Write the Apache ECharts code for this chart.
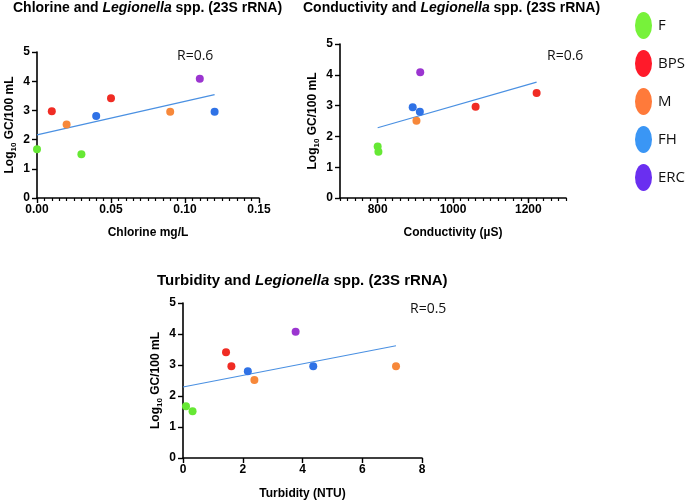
<!DOCTYPE html>
<html>
<head>
<meta charset="utf-8">
<script src="https://cdn.jsdelivr.net/npm/echarts@6/dist/echarts.min.js"></script>
<style>html,body{margin:0;padding:0;background:#fff}#c{width:685px;height:501px}</style>
</head>
<body>
<div id="c"></div>
<script>
// ---- data ----
const groups = ['F', 'BPS', 'M', 'FH', 'ERC'];
const pointColors = ['#66e834', '#f02c24', '#f7883a', '#2f72e6', '#9b35d0'];
const legendColors = ['#77f23a', '#ff1a2a', '#ff7a3a', '#3a96f5', '#6a2ff0'];

// Chlorine (mg/L) vs Log10 GC/100 mL
const chlorineF   = [[0.00, 1.67], [0.03, 1.50]];
const chlorineBPS = [[0.01, 2.97], [0.05, 3.42]];
const chlorineM   = [[0.02, 2.52], [0.09, 2.95]];
const chlorineFH  = [[0.04, 2.81], [0.12, 2.95]];
const chlorineERC = [[0.11, 4.08]];
const chlorineFit = [[0.00, 2.16], [0.12, 3.54]];

// Conductivity (µS)
const condF   = [[800, 1.67], [802, 1.50]];
const condBPS = [[1060, 2.96], [1222, 3.41]];
const condM   = [[903, 2.51]];
const condFH  = [[893, 2.95], [912, 2.80]];
const condERC = [[913, 4.08]];
const condFit = [[800, 2.28], [1222, 3.76]];

// Turbidity (NTU)
const turbF   = [[0.10, 1.67], [0.32, 1.51]];
const turbBPS = [[1.44, 3.41], [1.62, 2.96]];
const turbM   = [[2.39, 2.52], [7.13, 2.96]];
const turbFH  = [[2.17, 2.80], [4.36, 2.96]];
const turbERC = [[3.77, 4.07]];
const turbFit = [[0.00, 2.29], [7.13, 3.62]];

const yTicks = [0, 1, 2, 3, 4, 5];
const chlorineTicks = [0, 0.05, 0.10, 0.15];
const condLabels = [800, 1000, 1200];
const turbTicks = [0, 2, 4, 6, 8];

const titles = [
  ['Chlorine and ', 'Legionella', ' spp. (23S rRNA)'],
  ['Conductivity and ', 'Legionella', ' spp. (23S rRNA)'],
  ['Turbidity and ', 'Legionella', ' spp. (23S rRNA)']
];
const rLabels = ['R=0.6', 'R=0.6', 'R=0.5'];
const xNames = ['Chlorine mg/L', 'Conductivity (\u00b5S)', 'Turbidity (NTU)'];

// ---- build ----
const FONT = '"Liberation Sans", Arial, Helvetica, sans-serif';
const chart = echarts.init(document.getElementById('c'), null, {renderer: 'canvas'});

const axisLine = {show: true, onZero: false, lineStyle: {color: '#000', width: 1.6}};
const tickStyle = {lineStyle: {color: '#000', width: 1.4}};
const lblStyle = {color: '#000', fontWeight: 'bold', fontSize: 12, fontFamily: FONT};
const nameStyle = {color: '#000', fontWeight: 'bold', fontSize: 12, fontFamily: FONT};
const yName = '{n|Log}{s|10}{n| GC/100 mL}';
const yNameStyle = {
  color: '#000', fontFamily: FONT,
  rich: {
    n: {fontSize: 12, fontWeight: 'bold', fontFamily: FONT, color: '#000', lineHeight: 14},
    s: {fontSize: 8, fontWeight: 'bold', fontFamily: FONT, color: '#000', padding: [7, 0, 0, 0], lineHeight: 14}
  }
};

function yAxis(grid, gap) {
  return {
    gridIndex: grid, type: 'value', min: yTicks[0], max: yTicks[yTicks.length - 1], interval: 1,
    splitLine: {show: false}, axisLine: axisLine,
    axisTick: Object.assign({show: true, length: 5}, tickStyle),
    axisLabel: Object.assign({margin: 7}, lblStyle),
    name: yName, nameLocation: 'middle', nameRotate: 90, nameGap: gap, nameTextStyle: yNameStyle
  };
}

const option = {
  backgroundColor: '#fff',
  animation: false,
  title: titles.map((t, i) => {
    const fs = [14, 14, 15][i];
    return {
      text: '{b|' + t[0] + '}{i|' + t[1] + '}{b|' + t[2] + '}',
      left: [13, 303, 157][i], top: [1, 1, 273][i], padding: 0,
      textStyle: {
        rich: {
          b: {fontSize: fs, fontWeight: 'bold', fontFamily: FONT, color: '#000'},
          i: {fontSize: fs, fontWeight: 'bold', fontStyle: 'italic', fontFamily: FONT, color: '#000'}
        }
      }
    };
  }),
  legend: {
    orient: 'vertical', left: 630, top: 7, itemWidth: 17, itemHeight: 27, itemGap: 11,
    icon: 'path://M50,0 A50,50 0 1,1 50,100 A50,50 0 1,1 50,0 Z',
    symbolKeepAspect: false,
    textStyle: {fontSize: 15, color: '#111', fontFamily: '"Open Sans", "Noto Sans", sans-serif', padding: [0, 0, 0, 1]},
    data: groups.map((g, i) => ({name: g, itemStyle: {color: legendColors[i]}})),
    selectedMode: false
  },
  grid: [
    {left: 37, top: 52, width: 222, height: 146},
    {left: 340, top: 44, width: 226, height: 154},
    {left: 183, top: 303, width: 239, height: 155}
  ],
  xAxis: [
    {
      gridIndex: 0, type: 'value', min: chlorineTicks[0], max: chlorineTicks[chlorineTicks.length - 1], interval: 0.05,
      splitLine: {show: false}, axisLine: axisLine,
      axisTick: Object.assign({show: true, length: 5}, tickStyle),
      minorTick: {show: true, splitNumber: 10, length: 3, lineStyle: {color: '#000', width: 1.2}},
      axisLabel: Object.assign({margin: 6, formatter: v => v.toFixed(2)}, lblStyle),
      name: xNames[0], nameLocation: 'middle', nameGap: 29, nameTextStyle: nameStyle
    },
    {
      gridIndex: 1, type: 'value', min: 700, max: 1300, interval: 20,
      splitLine: {show: false}, axisLine: axisLine,
      axisTick: {show: true, length: 3, lineStyle: {color: '#000', width: 1.2}},
      axisLabel: {show: false}
    },
    {
      gridIndex: 1, type: 'value', min: 700, max: 1300, interval: 100, position: 'bottom',
      splitLine: {show: false}, axisLine: {show: false},
      axisTick: Object.assign({show: true, length: 5, customValues: condLabels}, tickStyle),
      axisLabel: Object.assign({margin: 6, customValues: condLabels, formatter: v => String(v)}, lblStyle),
      name: xNames[1], nameLocation: 'middle', nameGap: 29, nameTextStyle: nameStyle
    },
    {
      gridIndex: 2, type: 'value', min: turbTicks[0], max: turbTicks[turbTicks.length - 1], interval: 2,
      splitLine: {show: false}, axisLine: axisLine,
      axisTick: Object.assign({show: true, length: 5}, tickStyle),
      axisLabel: Object.assign({margin: 6}, lblStyle),
      name: xNames[2], nameLocation: 'middle', nameGap: 30, nameTextStyle: nameStyle
    }
  ],
  yAxis: [yAxis(0, 20), yAxis(1, 20), yAxis(2, 20)],
  series: []
};

const panels = [
  {x: 0, y: 0, sets: [chlorineF, chlorineBPS, chlorineM, chlorineFH, chlorineERC], fit: chlorineFit},
  {x: 1, y: 1, sets: [condF, condBPS, condM, condFH, condERC], fit: condFit},
  {x: 3, y: 2, sets: [turbF, turbBPS, turbM, turbFH, turbERC], fit: turbFit}
];
panels.forEach(p => {
  option.series.push({
    type: 'line', xAxisIndex: p.x, yAxisIndex: p.y, data: p.fit, symbol: 'none',
    lineStyle: {color: '#4a90e2', width: 1.2}, silent: true, z: 1
  });
  p.sets.forEach((d, i) => {
    option.series.push({
      name: groups[i], type: 'scatter', xAxisIndex: p.x, yAxisIndex: p.y, data: d,
      symbol: 'circle', symbolSize: 8, itemStyle: {color: pointColors[i], opacity: 1}, z: 3
    });
  });
});

option.graphic = rLabels.map((r, i) => ({
  type: 'text', left: [177, 547, 410][i], top: [49, 49, 302][i],
  style: {text: r, fontSize: 14, fill: '#111', fontFamily: '"Open Sans", "Noto Sans", sans-serif'}
}));

chart.setOption(option);
</script>
</body>
</html>
